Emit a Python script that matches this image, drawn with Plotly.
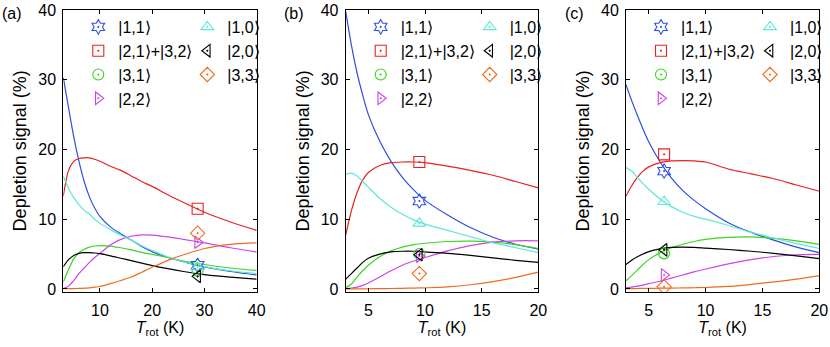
import plotly.graph_objects as go

# states, colours and symbols
states = ["|1,1\u27e9", "|2,1\u27e9+|3,2\u27e9", "|3,1\u27e9", "|2,2\u27e9", "|1,0\u27e9", "|2,0\u27e9", "|3,3\u27e9"]
colors = ["#2E4FE0", "#E8211F", "#3CD422", "#CC44E8", "#5EE8D8", "#000000", "#F26B1D"]
symbols = ["hexagram-open-dot", "square-open-dot", "circle-open-dot", "triangle-right-open-dot",
           "triangle-up-open-dot", "triangle-left-open-dot", "diamond-open-dot"]

# panel (a)
T_a = [3, 4, 5, 6, 7, 8, 9, 10, 12, 14, 16, 18, 20, 23, 26, 30, 35, 40]
a_11 = [30.3, 26.0, 21.8, 18.3, 15.4, 13.2, 11.6, 10.4, 8.9, 7.9, 7.0, 6.1, 5.35, 4.5, 3.9, 3.15, 2.5, 2.0]
a_21 = [13.3, 17.0, 18.3, 18.7, 18.8, 18.8, 18.6, 18.3, 17.6, 17.0, 16.2, 15.4, 14.7, 13.5, 12.4, 11.0, 9.6, 8.4]
a_31 = [1.0, 2.8, 4.3, 5.2, 5.7, 6.0, 6.15, 6.2, 6.15, 5.9, 5.6, 5.25, 4.95, 4.5, 4.0, 3.5, 3.0, 2.65]
a_22 = [0.05, 0.4, 1.2, 2.2, 3.0, 3.8, 4.5, 5.1, 6.3, 7.1, 7.55, 7.75, 7.7, 7.45, 7.1, 6.6, 5.9, 5.3]
a_10 = [16.2, 14.4, 13.1, 12.1, 11.3, 10.7, 10.0, 9.4, 8.5, 7.7, 7.0, 6.2, 5.5, 4.6, 3.9, 3.2, 2.6, 2.2]
a_20 = [3.2, 4.2, 4.8, 5.1, 5.2, 5.2, 5.15, 5.05, 4.75, 4.4, 4.05, 3.7, 3.35, 2.9, 2.5, 2.05, 1.7, 1.4]
a_33 = [0.02, 0.03, 0.05, 0.07, 0.1, 0.15, 0.25, 0.35, 0.75, 1.2, 1.7, 2.4, 3.1, 4.1, 4.9, 5.8, 6.4, 6.6]
a_T_exp = 28.7
a_exp = [3.4, 11.5, 2.6, 6.7, 3.1, 1.8, 8.0]

# panel (b)
T_b = [3, 3.5, 4, 4.5, 5, 6, 7, 8, 9, 10, 12, 14, 16, 18, 20]
b_11 = [39.8, 35.0, 31.0, 27.8, 25.0, 21.2, 18.3, 16.0, 14.2, 12.7, 10.6, 8.8, 7.4, 6.4, 5.7]
b_21 = [7.7, 11.2, 13.8, 15.6, 16.7, 17.7, 18.1, 18.2, 18.2, 18.1, 17.6, 17.0, 16.3, 15.4, 14.5]
b_31 = [0.15, 0.7, 1.7, 2.6, 3.4, 4.6, 5.45, 6.0, 6.35, 6.55, 6.8, 6.85, 6.7, 6.35, 5.8]
b_22 = [0.02, 0.1, 0.25, 0.5, 0.85, 1.7, 2.6, 3.4, 4.0, 4.5, 5.45, 6.2, 6.7, 6.9, 6.9]
b_10 = [16.4, 16.6, 16.2, 15.4, 14.6, 13.0, 11.7, 10.7, 9.9, 9.3, 8.4, 7.5, 6.6, 5.9, 5.2]
b_20 = [1.4, 2.2, 3.0, 3.8, 4.4, 5.0, 5.3, 5.4, 5.4, 5.3, 5.1, 4.8, 4.45, 4.1, 3.8]
b_33 = [0.0, 0.0, 0.0, 0.01, 0.02, 0.04, 0.06, 0.09, 0.12, 0.16, 0.29, 0.6, 1.05, 1.65, 2.4]
b_T_exp = 9.5
b_exp = [12.6, 18.2, 5.0, 4.7, 9.4, 4.9, 2.2]

# panel (c)
T_c = [3, 3.5, 4, 4.5, 5, 6, 7, 8, 9, 10, 12, 14, 16, 18, 20]
c_11 = [29.3, 27.0, 24.9, 22.9, 21.1, 18.2, 15.9, 14.1, 12.7, 11.5, 9.5, 8.1, 7.0, 6.0, 5.2]
c_21 = [13.3, 14.8, 16.0, 16.9, 17.5, 18.1, 18.35, 18.4, 18.35, 18.2, 17.2, 16.5, 15.8, 14.9, 14.0]
c_31 = [1.15, 1.9, 2.7, 3.5, 4.2, 5.2, 5.9, 6.4, 6.8, 7.1, 7.4, 7.45, 7.25, 6.9, 6.4]
c_22 = [0.15, 0.25, 0.4, 0.55, 0.75, 1.1, 1.55, 2.0, 2.45, 2.85, 3.6, 4.2, 4.65, 4.9, 4.95]
c_10 = [17.4, 16.9, 16.0, 15.1, 14.3, 12.9, 11.8, 11.0, 10.4, 10.0, 9.1, 8.1, 7.3, 6.5, 5.8]
c_20 = [3.5, 4.1, 4.6, 5.0, 5.35, 5.75, 5.95, 6.0, 5.95, 5.85, 5.65, 5.4, 5.1, 4.75, 4.35]
c_33 = [0.05, 0.05, 0.06, 0.07, 0.08, 0.1, 0.12, 0.14, 0.17, 0.2, 0.35, 0.65, 1.0, 1.4, 1.9]
c_T_exp = 6.35
c_exp = [16.9, 19.3, 5.1, 2.0, 12.5, 5.6, 0.3]

x_ticks_a = [10, 20, 30, 40]
x_ticks_bc = [5, 10, 15, 20]
y_ticks = [0, 10, 20, 30, 40]

panels = [
    ("x", "y", T_a, [a_11, a_21, a_31, a_22, a_10, a_20, a_33], a_T_exp, a_exp, ("legend", "legend2")),
    ("x2", "y2", T_b, [b_11, b_21, b_31, b_22, b_10, b_20, b_33], b_T_exp, b_exp, ("legend3", "legend4")),
    ("x3", "y3", T_c, [c_11, c_21, c_31, c_22, c_10, c_20, c_33], c_T_exp, c_exp, ("legend5", "legend6")),
]

FONT = "Liberation Sans, Arial, sans-serif"
fig = go.Figure()

for xa, ya, T, curves, t_exp, exp, legs in panels:
    for i, ys in enumerate(curves):
        fig.add_trace(go.Scatter(
            x=T, y=ys, xaxis=xa, yaxis=ya, mode="lines",
            line=dict(color=colors[i], width=1.2, shape="spline", smoothing=0.8),
            showlegend=False, hoverinfo="skip"))
    for i, v in enumerate(exp):
        fig.add_trace(go.Scatter(
            x=[t_exp], y=[v], xaxis=xa, yaxis=ya, mode="markers", name=states[i],
            marker=dict(symbol=symbols[i], size=11, color=colors[i], line=dict(width=1.1, color=colors[i])),
            legend=legs[0] if i < 4 else legs[1], legendgroup=f"{xa}{i}"))

H = 347.0
W = 830.0
y_dom = [1 - 291.7 / H, 1 - 10 / H]
x_doms = [[63.3 / W, 256.7 / W], [345.7 / W, 538.3 / W], [626 / W, 819.3 / W]]
x_ranges = [[3, 40], [3, 20], [3, 20]]
x_tickv = [x_ticks_a, x_ticks_bc, x_ticks_bc]

axis_common = dict(showline=True, linecolor="black", linewidth=1, mirror="ticks", ticks="inside",
                   ticklen=4, tickcolor="black", showgrid=False, zeroline=False,
                   tickfont=dict(family=FONT, size=16, color="black"), automargin=False)

layout = dict(
    width=830, height=347, margin=dict(l=0, r=0, t=0, b=0, autoexpand=False),
    paper_bgcolor="white", plot_bgcolor="white",
    font=dict(family=FONT, size=16, color="black"),
)
for k in range(3):
    sx = "xaxis" if k == 0 else f"xaxis{k + 1}"
    sy = "yaxis" if k == 0 else f"yaxis{k + 1}"
    anchor_y = "y" if k == 0 else f"y{k + 1}"
    anchor_x = "x" if k == 0 else f"x{k + 1}"
    layout[sx] = dict(axis_common, domain=x_doms[k], range=x_ranges[k], tickvals=x_tickv[k],
                      anchor=anchor_y, ticklabelstandoff=4,
                      title=dict(text="<i>T</i><sub>rot</sub> (K)", standoff=2,
                                 font=dict(family=FONT, size=16)))
    layout[sy] = dict(axis_common, domain=y_dom, range=[-0.4, 40], tickvals=y_ticks,
                      anchor=anchor_x, ticklabelstandoff=3,
                      title=dict(text="Depletion signal (%)", standoff=6,
                                 font=dict(family=FONT, size=18)))

    left = x_doms[k][0] * W
    for j, off in enumerate([15, 124]):
        name = ["legend", "legend2", "legend3", "legend4", "legend5", "legend6"][2 * k + j]
        layout[name] = dict(x=(left + off) / W, y=1 - 10 / H, xanchor="left", yanchor="top",
                            bgcolor="rgba(0,0,0,0)", borderwidth=0, traceorder="grouped",
                            tracegroupgap=0, itemsizing="trace",
                            font=dict(family=FONT, size=16, color="black"))

fig.update_layout(**layout)

for lab, xp in [("(a)", 0), ("(b)", 282), ("(c)", 563)]:
    fig.add_annotation(text=lab, x=xp / W, y=1 - 3 / H, xref="paper", yref="paper",
                       xanchor="left", yanchor="top", showarrow=False,
                       font=dict(family=FONT, size=16, color="black"))

# the page body has a default 8px margin; drop it so the figure sits at the window corner
fig.write_html("out.html", config={"displayModeBar": False},
               post_script="document.body.style.margin='0';")
